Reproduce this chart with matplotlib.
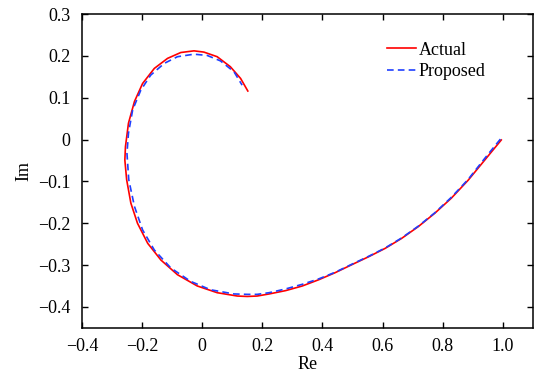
import matplotlib.pyplot as plt

plt.rcParams['font.family'] = ['Liberation Serif', 'DejaVu Serif']

# Actual curve (Re, Im), from w=0 outward
actual_re = [0.995, 0.940, 0.885, 0.829, 0.774, 0.719, 0.664, 0.609, 0.554, 0.498,
             0.443, 0.388, 0.333, 0.278, 0.223, 0.183, 0.150, 0.117, 0.050, -0.016,
             -0.082, -0.137, -0.181, -0.215, -0.237, -0.251, -0.257, -0.255, -0.245,
             -0.225, -0.198, -0.159, -0.115, -0.071, -0.027, 0.006, 0.050, 0.094,
             0.128, 0.152]
actual_im = [-0.001, -0.049, -0.097, -0.140, -0.176, -0.208, -0.236, -0.260, -0.280,
             -0.299, -0.318, -0.335, -0.350, -0.361, -0.369, -0.374, -0.375, -0.374,
             -0.366, -0.350, -0.323, -0.288, -0.248, -0.200, -0.152, -0.096, -0.049,
             -0.017, 0.039, 0.091, 0.134, 0.170, 0.194, 0.208, 0.212, 0.209, 0.198,
             0.174, 0.146, 0.116]

# Proposed curve
proposed_re = [0.992, 0.940, 0.885, 0.829, 0.774, 0.719, 0.664, 0.609, 0.554, 0.498,
               0.443, 0.388, 0.333, 0.278, 0.223, 0.183, 0.150, 0.106, 0.028, -0.038,
               -0.104, -0.159, -0.198, -0.225, -0.244, -0.250, -0.245, -0.231, -0.204,
               -0.171, -0.126, -0.082, -0.027, 0.017, 0.061, 0.106, 0.133]
proposed_im = [0.001, -0.045, -0.095, -0.138, -0.175, -0.207, -0.235, -0.259, -0.279,
               -0.298, -0.317, -0.333, -0.346, -0.357, -0.366, -0.370, -0.370, -0.369,
               -0.359, -0.339, -0.307, -0.264, -0.216, -0.160, -0.096, -0.033, 0.015,
               0.071, 0.118, 0.154, 0.182, 0.198, 0.204, 0.201, 0.188, 0.162, 0.130]

fig = plt.figure(figsize=(5.35, 3.79), dpi=100)
ax = fig.add_axes([0.153, 0.135, 0.843, 0.828])

ax.plot(actual_re, actual_im, color='red', lw=1.2, label='Actual')
ax.plot(proposed_re, proposed_im, color='#1f3fff', lw=1.2, dashes=(4, 2.5), label='Proposed')

ax.set_xlim(-0.4, 1.1)
ax.set_ylim(-0.45, 0.3)
ax.set_xticks([-0.4, -0.2, 0, 0.2, 0.4, 0.6, 0.8, 1.0])
ax.set_xticklabels(['\u22120.4', '\u22120.2', '0', '0.2', '0.4', '0.6', '0.8', '1.0'])
ax.set_yticks([-0.4, -0.3, -0.2, -0.1, 0, 0.1, 0.2, 0.3])
ax.set_yticklabels(['\u22120.4', '\u22120.3', '\u22120.2', '\u22120.1', '0', '0.1', '0.2', '0.3'])
ax.tick_params(axis='x', direction='in', top=True, labelsize=13, length=4, width=1, pad=7)
ax.tick_params(axis='y', direction='in', right=True, labelsize=13, length=4, width=1, pad=8)
for s in ax.spines.values():
    s.set_linewidth(1.1)

ax.set_xlabel('Re', fontsize=13, labelpad=1)
ax.set_ylabel('Im', fontsize=13, labelpad=4)

ax.legend(loc='upper left', bbox_to_anchor=(0.66, 0.935), frameon=False, fontsize=13,
          handlelength=1.6, handletextpad=0.15, labelspacing=0.25, borderaxespad=0)

fig.savefig('out.png', dpi=100)
